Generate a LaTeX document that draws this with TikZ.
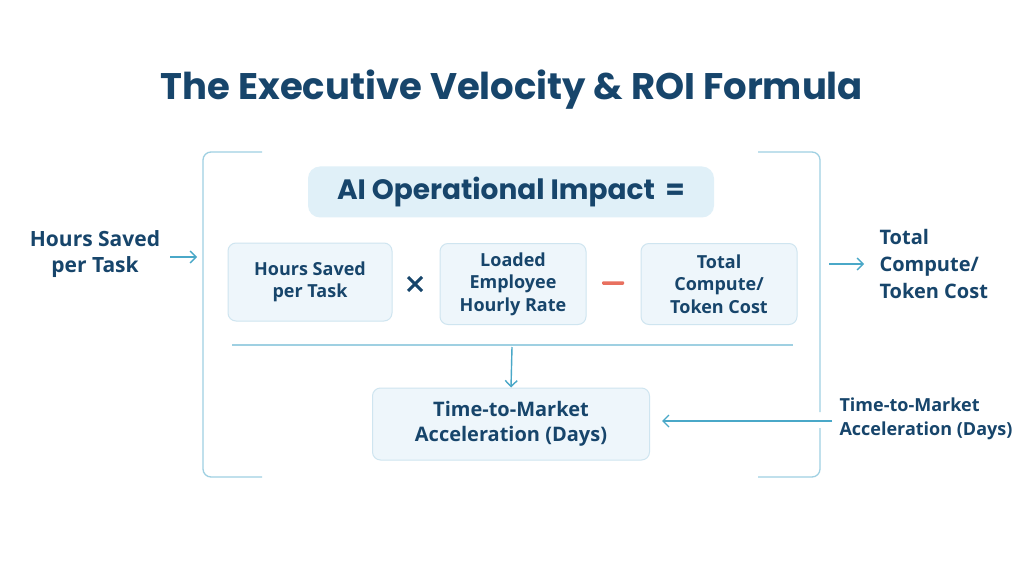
\documentclass[tikz,border=0pt]{standalone}
\usepackage{fontspec}
\setmainfont{Open Sans}
\newfontfamily\titlefont{Poppins}
\usetikzlibrary{arrows.meta}
\definecolor{navy}{HTML}{17456B}
\definecolor{linecol}{HTML}{9FD0E2}
\definecolor{arrowcol}{HTML}{4AA8C8}
\definecolor{boxfill}{HTML}{EEF6FB}
\definecolor{boxline}{HTML}{CFE5F0}
\definecolor{headfill}{HTML}{E0F0F8}
\definecolor{minuscol}{HTML}{E8705F}
\begin{document}
\begin{tikzpicture}[
    x=1pt, y=-1pt,
    term/.style={rounded corners=8pt, draw=boxline, fill=boxfill, line width=1pt,
                 font=\fontsize{18}{22.5}\selectfont\bfseries, text=navy, align=center},
    side/.style={font=\fontsize{#1}{26}\selectfont\bfseries, text=navy},
    flow/.style={-{Straight Barb[length=6pt,width=12pt]}, arrowcol, line width=1.4pt},
    frame/.style={linecol, line width=1.3pt, rounded corners=8pt}
]
\useasboundingbox[fill=white] (0,0) rectangle (1024,561);

% Title
\node[font=\titlefont\fontsize{37}{42}\selectfont\bfseries, text=navy] (title) at (512,90)
    {The Executive Velocity \& ROI Formula};

% Bracket frame
\draw[frame] (262,152) -- (203,152) -- (203,477) -- (262,477);
\draw[frame] (758,152) -- (820,152) -- (820,412);
\draw[frame] (820,428) -- (820,477) -- (758,477);

% Formula head
\node[rounded corners=12pt, fill=headfill, minimum width=406pt, minimum height=51pt,
      font=\titlefont\fontsize{28}{32}\selectfont\bfseries, text=navy] (impact) at (511,192)
    {AI Operational Impact \,=};

% Terms
\node[term, minimum width=164pt, minimum height=78pt] (hours) at (310,282) {Hours Saved\\per Task};
\node[term, minimum width=146pt, minimum height=81pt] (rate) at (513,284) {Loaded\\Employee\\Hourly Rate};
\node[term, minimum width=156pt, minimum height=81pt] (cost) at (719,284) {Total\\Compute/\\Token Cost};
\node[inner sep=0pt] (times) at (415,284)
    {\tikz\draw[navy, line width=3pt] (0,0) -- (14pt,14pt) (0,14pt) -- (14pt,0);};
\node[inner sep=0pt] (minus) at (613,283)
    {\tikz\fill[minuscol, rounded corners=1pt] (0,0) rectangle (22pt,3.5pt);};

% Divider and result
\draw[linecol, line width=1.2pt] (232,345) -- (793,345);
\coordinate (split) at (512,347);
\node[term, minimum width=277pt, minimum height=72pt, font=\fontsize{20}{25}\selectfont\bfseries]
    (ttm) at (511,424) {Time-to-Market\\Acceleration (Days)};
\draw[flow] (split) -- (ttm.north);

% Outside labels
\node[side=21, align=center] (hoursin) at (95,254) {Hours Saved\\per Task};
\coordinate (leftin) at (197,257);
\draw[flow] (170,257) -- (leftin);
\node[align=left, anchor=west, font=\fontsize{20}{27}\selectfont\bfseries, text=navy]
    (costout) at (876,264) {Total\\Compute/\\Token Cost};
\coordinate (rightout) at (829,264);
\draw[flow, shorten >=12pt] (rightout) -- (costout.west);
\node[align=left, anchor=west, font=\fontsize{18}{24}\selectfont\bfseries, text=navy]
    (ttmin) at (836,419) {Time-to-Market\\Acceleration (Days)};
\draw[flow] (ttmin.west) ++(-4,2) coordinate (ttmstart) -- ([xshift=12pt]ttm.east |- ttmstart);
\end{tikzpicture}
\end{document}
